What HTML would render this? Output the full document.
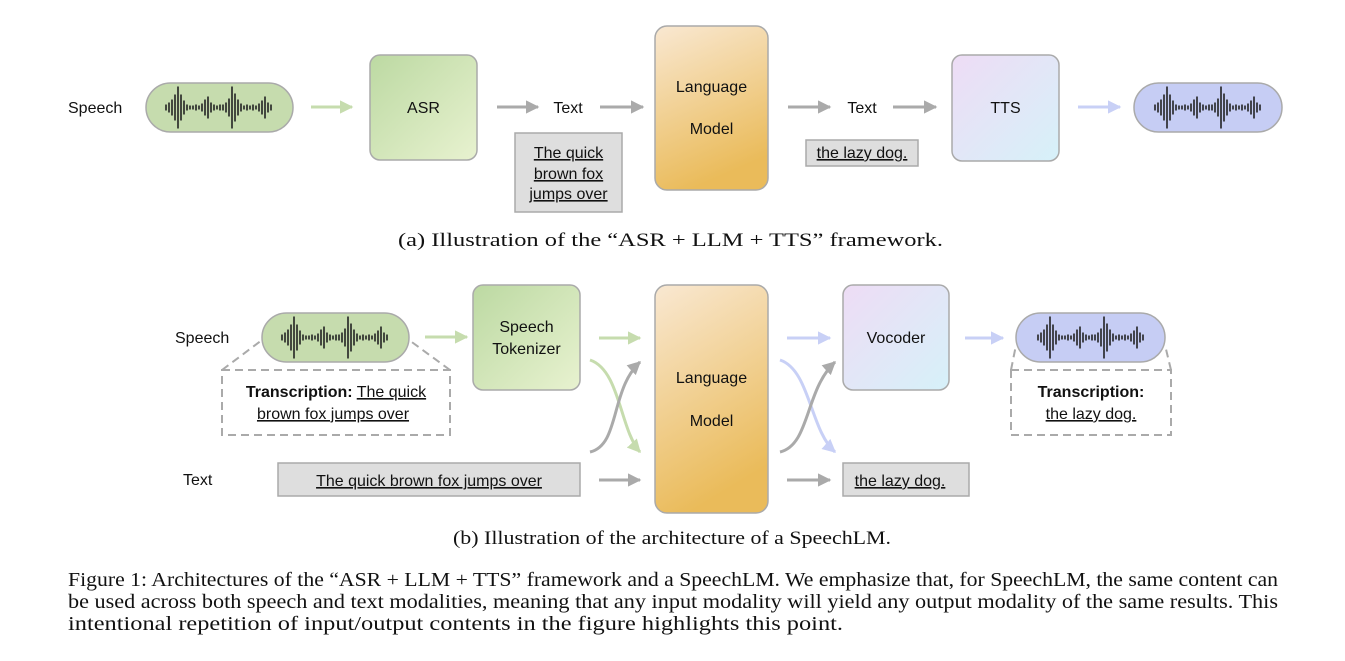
<!DOCTYPE html>
<html><head><meta charset="utf-8"><style>
html,body{margin:0;padding:0;background:#fff;}
svg{display:block;}
.s{font-family:"Liberation Sans",sans-serif;font-size:16px;fill:#111;}
.u{text-decoration:underline;}
.r{font-family:"Liberation Serif",serif;font-size:19px;fill:#111;}
.c{font-family:"Liberation Serif",serif;font-size:20px;fill:#111;}
</style></head><body>
<svg width="1345" height="661" viewBox="0 0 1345 661" xmlns="http://www.w3.org/2000/svg">
<defs>
<linearGradient id="gg" x1="0" y1="0" x2="1" y2="1"><stop offset="0" stop-color="#bcd9a2"/><stop offset="1" stop-color="#e8f2d0"/></linearGradient>
<linearGradient id="og" x1="0" y1="0" x2="0.3" y2="1"><stop offset="0" stop-color="#f9e8d2"/><stop offset="1" stop-color="#eabb5a"/></linearGradient>
<linearGradient id="pg" x1="0" y1="0" x2="1" y2="1"><stop offset="0" stop-color="#eedcf5"/><stop offset="1" stop-color="#d6f1f9"/></linearGradient>
<marker id="ag" viewBox="0 0 10 10" refX="9" refY="5" markerWidth="4.5" markerHeight="4.5" orient="auto"><path d="M0,0L10,5L0,10z" fill="#aaaaaa"/></marker>
<marker id="agr" viewBox="0 0 10 10" refX="9" refY="5" markerWidth="4.5" markerHeight="4.5" orient="auto"><path d="M0,0L10,5L0,10z" fill="#c6dcae"/></marker>
<marker id="ab" viewBox="0 0 10 10" refX="9" refY="5" markerWidth="4.5" markerHeight="4.5" orient="auto"><path d="M0,0L10,5L0,10z" fill="#c8d0f6"/></marker>
<g id="wave" stroke="#222" stroke-width="1.6">
<line x1="20" y1="-3" x2="20" y2="3"/><line x1="23" y1="-5" x2="23" y2="5"/><line x1="26" y1="-8" x2="26" y2="8"/><line x1="29" y1="-13" x2="29" y2="13"/><line x1="32" y1="-21" x2="32" y2="21"/><line x1="35" y1="-13" x2="35" y2="13"/><line x1="38" y1="-7" x2="38" y2="7"/><line x1="41" y1="-3" x2="41" y2="3"/><line x1="44" y1="-2" x2="44" y2="2"/><line x1="47" y1="-2" x2="47" y2="2"/><line x1="50" y1="-3" x2="50" y2="3"/><line x1="53" y1="-2" x2="53" y2="2"/><line x1="56" y1="-4" x2="56" y2="4"/><line x1="59" y1="-8" x2="59" y2="8"/><line x1="62" y1="-11" x2="62" y2="11"/><line x1="65" y1="-5" x2="65" y2="5"/><line x1="68" y1="-3" x2="68" y2="3"/><line x1="71" y1="-2" x2="71" y2="2"/><line x1="74" y1="-3" x2="74" y2="3"/><line x1="77" y1="-3" x2="77" y2="3"/><line x1="80" y1="-5" x2="80" y2="5"/><line x1="83" y1="-9" x2="83" y2="9"/><line x1="86" y1="-21" x2="86" y2="21"/><line x1="89" y1="-14" x2="89" y2="14"/><line x1="92" y1="-8" x2="92" y2="8"/><line x1="95" y1="-4" x2="95" y2="4"/><line x1="98" y1="-2" x2="98" y2="2"/><line x1="101" y1="-3" x2="101" y2="3"/><line x1="104" y1="-2" x2="104" y2="2"/><line x1="107" y1="-3" x2="107" y2="3"/><line x1="110" y1="-2" x2="110" y2="2"/><line x1="113" y1="-4" x2="113" y2="4"/><line x1="116" y1="-7" x2="116" y2="7"/><line x1="119" y1="-11" x2="119" y2="11"/><line x1="122" y1="-5" x2="122" y2="5"/><line x1="125" y1="-3" x2="125" y2="3"/>
</g>
</defs>

<!-- (a) -->
<text class="s" x="68" y="113">Speech</text>
<rect x="146" y="83" width="147" height="49" rx="24.5" fill="#c6dcae" stroke="#aaa" stroke-width="1.5"/>
<use href="#wave" x="146" y="107.5"/>
<line x1="311" y1="107" x2="352" y2="107" stroke="#c6dcae" stroke-width="3" marker-end="url(#agr)"/>
<rect x="370" y="55" width="107" height="105" rx="10" fill="url(#gg)" stroke="#aaa" stroke-width="1.5"/>
<text class="s" x="423.5" y="113" text-anchor="middle">ASR</text>
<line x1="497" y1="107" x2="538" y2="107" stroke="#aaa" stroke-width="3" marker-end="url(#ag)"/>
<text class="s" x="568" y="113" text-anchor="middle">Text</text>
<line x1="600" y1="107" x2="643" y2="107" stroke="#aaa" stroke-width="3" marker-end="url(#ag)"/>
<rect x="515" y="133" width="107" height="79" fill="#dedede" stroke="#aaa" stroke-width="1.5"/>
<text class="s u" x="568.5" y="158" text-anchor="middle">The quick</text>
<text class="s u" x="568.5" y="179" text-anchor="middle">brown fox</text>
<text class="s u" x="568.5" y="199" text-anchor="middle">jumps over</text>
<rect x="655" y="26" width="113" height="164" rx="12" fill="url(#og)" stroke="#aaa" stroke-width="1.5"/>
<text class="s" x="711.5" y="92" text-anchor="middle">Language</text>
<text class="s" x="711.5" y="134" text-anchor="middle">Model</text>
<line x1="788" y1="107" x2="830" y2="107" stroke="#aaa" stroke-width="3" marker-end="url(#ag)"/>
<text class="s" x="862" y="113" text-anchor="middle">Text</text>
<line x1="893" y1="107" x2="936" y2="107" stroke="#aaa" stroke-width="3" marker-end="url(#ag)"/>
<rect x="806" y="140" width="112" height="26" fill="#dedede" stroke="#aaa" stroke-width="1.5"/>
<text class="s u" x="862" y="158" text-anchor="middle">the lazy dog.</text>
<rect x="952" y="55" width="107" height="106" rx="10" fill="url(#pg)" stroke="#aaa" stroke-width="1.5"/>
<text class="s" x="1005.5" y="113" text-anchor="middle">TTS</text>
<line x1="1078" y1="107" x2="1120" y2="107" stroke="#c8d0f6" stroke-width="3" marker-end="url(#ab)"/>
<rect x="1134" y="83" width="148" height="49" rx="24.5" fill="#c6cdf4" stroke="#aaa" stroke-width="1.5"/>
<use href="#wave" x="1135" y="107.5"/>
<text class="r" x="398" y="246" textLength="545" lengthAdjust="spacingAndGlyphs">(a) Illustration of the “ASR + LLM + TTS” framework.</text>

<!-- (b) -->
<text class="s" x="175" y="343">Speech</text>
<path d="M222,370 L262,340 M450,370 L409,340" stroke="#aaa" stroke-width="2" stroke-dasharray="8,5" fill="none"/>
<rect x="222" y="370" width="228" height="65" fill="none" stroke="#aaa" stroke-width="2" stroke-dasharray="8,5"/>
<rect x="262" y="313" width="147" height="49" rx="24.5" fill="#c6dcae" stroke="#aaa" stroke-width="1.5"/>
<use href="#wave" x="262" y="337.5"/>
<text class="s" x="336" y="397" text-anchor="middle"><tspan font-weight="bold">Transcription:</tspan> <tspan class="u">The quick</tspan></text>
<text class="s u" x="333" y="419" text-anchor="middle">brown fox jumps over</text>
<line x1="425" y1="337" x2="467" y2="337" stroke="#c6dcae" stroke-width="3" marker-end="url(#agr)"/>
<rect x="473" y="285" width="107" height="105" rx="10" fill="url(#gg)" stroke="#aaa" stroke-width="1.5"/>
<text class="s" x="526.5" y="332" text-anchor="middle">Speech</text>
<text class="s" x="526.5" y="354" text-anchor="middle">Tokenizer</text>
<line x1="599" y1="338" x2="640" y2="338" stroke="#c6dcae" stroke-width="3" marker-end="url(#agr)"/>
<path d="M590,360 C620,370 620,430 640,452" stroke="#c6dcae" stroke-width="3" fill="none" marker-end="url(#agr)"/>
<path d="M590,452 C620,445 610,390 640,362" stroke="#aaa" stroke-width="3" fill="none" marker-end="url(#ag)"/>
<text class="s" x="183" y="485">Text</text>
<rect x="278" y="463" width="302" height="33" fill="#dedede" stroke="#aaa" stroke-width="1.5"/>
<text class="s u" x="429" y="486" text-anchor="middle">The quick brown fox jumps over</text>
<line x1="599" y1="480" x2="640" y2="480" stroke="#aaa" stroke-width="3" marker-end="url(#ag)"/>
<rect x="655" y="285" width="113" height="228" rx="12" fill="url(#og)" stroke="#aaa" stroke-width="1.5"/>
<text class="s" x="711.5" y="383" text-anchor="middle">Language</text>
<text class="s" x="711.5" y="426" text-anchor="middle">Model</text>
<line x1="787" y1="338" x2="830" y2="338" stroke="#c8d0f6" stroke-width="3" marker-end="url(#ab)"/>
<path d="M780,360 C810,370 810,430 835,452" stroke="#c8d0f6" stroke-width="3" fill="none" marker-end="url(#ab)"/>
<path d="M780,452 C810,445 805,390 835,362" stroke="#aaa" stroke-width="3" fill="none" marker-end="url(#ag)"/>
<rect x="843" y="285" width="106" height="105" rx="10" fill="url(#pg)" stroke="#aaa" stroke-width="1.5"/>
<text class="s" x="896" y="343" text-anchor="middle">Vocoder</text>
<line x1="965" y1="338" x2="1003" y2="338" stroke="#c8d0f6" stroke-width="3" marker-end="url(#ab)"/>
<path d="M1011,370 L1016,345 M1171,370 L1165,345" stroke="#aaa" stroke-width="2" stroke-dasharray="8,5" fill="none"/>
<rect x="1011" y="370" width="160" height="65" fill="none" stroke="#aaa" stroke-width="2" stroke-dasharray="8,5"/>
<rect x="1016" y="313" width="149" height="49" rx="24.5" fill="#c6cdf4" stroke="#aaa" stroke-width="1.5"/>
<use href="#wave" x="1018" y="337.5"/>
<text class="s" x="1091" y="397" text-anchor="middle" font-weight="bold">Transcription:</text>
<text class="s u" x="1091" y="419" text-anchor="middle">the lazy dog.</text>
<line x1="787" y1="480" x2="830" y2="480" stroke="#aaa" stroke-width="3" marker-end="url(#ag)"/>
<rect x="843" y="463" width="126" height="33" fill="#dedede" stroke="#aaa" stroke-width="1.5"/>
<text class="s u" x="900" y="486" text-anchor="middle">the lazy dog.</text>
<text class="r" x="453" y="544" textLength="438" lengthAdjust="spacingAndGlyphs">(b) Illustration of the architecture of a SpeechLM.</text>

<text class="c" x="68" y="586" textLength="1210" lengthAdjust="spacingAndGlyphs">Figure 1: Architectures of the “ASR + LLM + TTS” framework and a SpeechLM. We emphasize that, for SpeechLM, the same content can</text>
<text class="c" x="68" y="608" textLength="1210" lengthAdjust="spacingAndGlyphs">be used across both speech and text modalities, meaning that any input modality will yield any output modality of the same results. This</text>
<text class="c" x="68" y="630" textLength="775" lengthAdjust="spacingAndGlyphs">intentional repetition of input/output contents in the figure highlights this point.</text>
</svg>
</body></html>
